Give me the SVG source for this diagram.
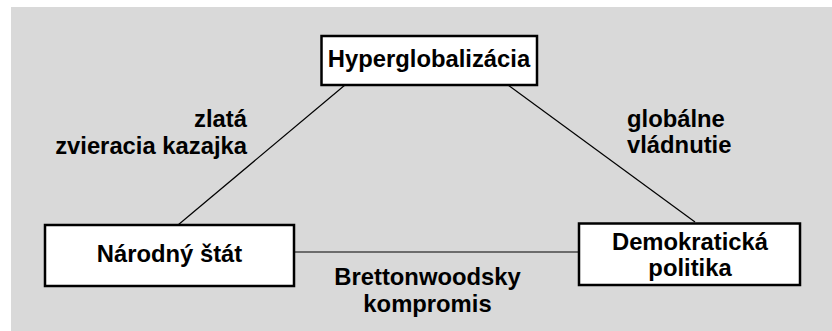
<svg xmlns="http://www.w3.org/2000/svg" width="832" height="331" viewBox="0 0 832 331">
<style>
.box{fill:#ffffff;stroke:#000000;stroke-width:2.5}
.t{font-family:"Liberation Sans",Arial,sans-serif;font-weight:bold;font-size:23.8px;fill:#000000}
.c{stroke:#000000;stroke-width:1.2;fill:none}
</style>
<rect x="11" y="7" width="821" height="324" fill="#d9d9d9"/>
<g id="connectors">
<line class="c" x1="178" y1="225" x2="345" y2="85"/>
<line class="c" x1="508" y1="85" x2="695" y2="222"/>
<line class="c" x1="294" y1="252" x2="579" y2="252"/>
</g>
<g id="node-hyper">
<rect class="box" x="321.5" y="36" width="215.5" height="49"/>
<text class="t" x="429" y="67" text-anchor="middle">Hyperglobalizácia</text>
</g>
<g id="node-narodny">
<rect class="box" x="45" y="225" width="249" height="61"/>
<text class="t" x="169.5" y="262" text-anchor="middle">Národný štát</text>
</g>
<g id="node-demokraticka">
<rect class="box" x="579" y="223.5" width="221" height="61.5"/>
<text class="t" x="690" y="250" text-anchor="middle">Demokratická</text>
<text class="t" x="690" y="276" text-anchor="middle">politika</text>
</g>
<g id="labels">
<text class="t" x="247" y="127" text-anchor="end">zlatá</text>
<text class="t" x="247" y="154" text-anchor="end">zvieracia kazajka</text>
<text class="t" x="627" y="127">globálne</text>
<text class="t" x="627" y="153">vládnutie</text>
<text class="t" x="427.5" y="285" text-anchor="middle">Brettonwoodsky</text>
<text class="t" x="427.5" y="312" text-anchor="middle">kompromis</text>
</g>
</svg>
